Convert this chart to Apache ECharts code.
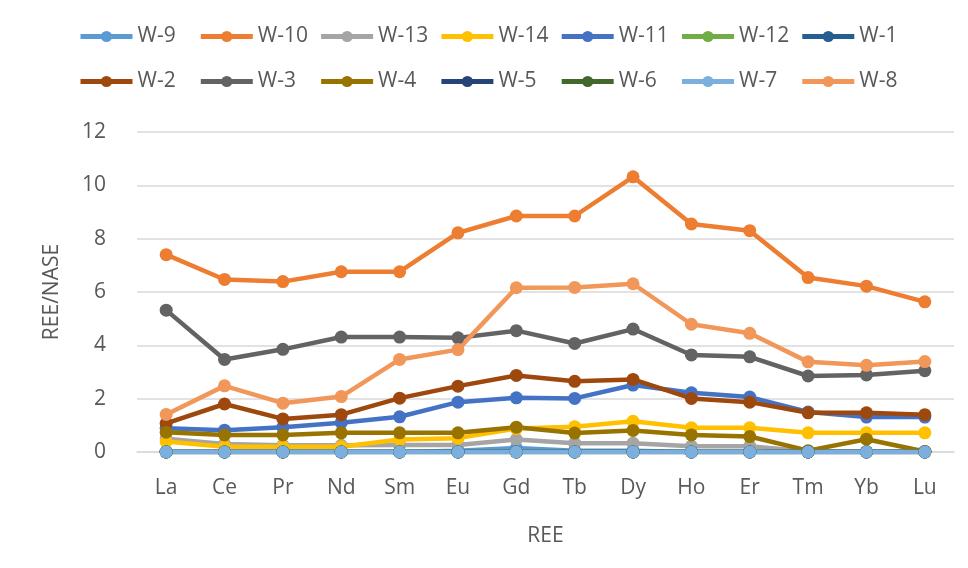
<!DOCTYPE html>
<html>
<head>
<meta charset="utf-8">
<title>REE/NASE</title>
<script src="https://cdn.jsdelivr.net/npm/echarts@6/dist/echarts.min.js"></script>
<style>
  html, body { margin: 0; padding: 0; background: #fff; }
  #chart { width: 968px; height: 568px; }
</style>
</head>
<body>
<div id="chart"></div>
<script>
// 元素（横轴）
var elements = ['La', 'Ce', 'Pr', 'Nd', 'Sm', 'Eu', 'Gd', 'Tb', 'Dy', 'Ho', 'Er', 'Tm', 'Yb', 'Lu'];
var yTicks = [0, 2, 4, 6, 8, 10, 12];

// 各样品的 REE/NASE 值（按图例顺序）
var w9  = [0, 0, 0, 0, 0, 0.05, 0.15, 0.05, 0.05, 0, 0, 0, 0, 0];
var w10 = [7.4, 6.47, 6.39, 6.76, 6.76, 8.22, 8.85, 8.85, 10.32, 8.55, 8.3, 6.54, 6.22, 5.63];
var w13 = [0.5, 0.3, 0.25, 0.25, 0.26, 0.26, 0.47, 0.33, 0.33, 0.22, 0.22, 0.02, 0.02, 0.02];
var w14 = [0.39, 0.2, 0.2, 0.2, 0.47, 0.52, 0.88, 0.95, 1.15, 0.91, 0.91, 0.72, 0.72, 0.72];
var w11 = [0.89, 0.82, 0.93, 1.1, 1.32, 1.87, 2.03, 2.01, 2.51, 2.22, 2.06, 1.5, 1.31, 1.31];
var w12 = [0, 0, 0, 0, 0, 0, 0, 0, 0, 0, 0, 0, 0, 0];
var w1  = [0, 0, 0, 0, 0, 0, 0, 0, 0, 0, 0, 0, 0, 0];
var w2  = [1.07, 1.8, 1.24, 1.4, 2.02, 2.47, 2.87, 2.65, 2.72, 2.01, 1.87, 1.47, 1.47, 1.4];
var w3  = [5.32, 3.47, 3.85, 4.31, 4.31, 4.28, 4.55, 4.07, 4.61, 3.64, 3.57, 2.85, 2.89, 3.05];
var w4  = [0.74, 0.64, 0.64, 0.72, 0.72, 0.72, 0.93, 0.71, 0.81, 0.64, 0.58, 0.05, 0.48, 0.02];
var w5  = [0, 0, 0, 0, 0, 0, 0, 0, 0, 0, 0, 0, 0, 0];
var w6  = [0, 0, 0, 0, 0, 0, 0, 0, 0, 0, 0, 0, 0, 0];
var w7  = [0, 0, 0, 0, 0, 0, 0, 0, 0, 0, 0, 0, 0, 0];
var w8  = [1.41, 2.48, 1.83, 2.08, 3.47, 3.84, 6.16, 6.17, 6.31, 4.79, 4.45, 3.38, 3.25, 3.39];

var names = ['W-9', 'W-10', 'W-13', 'W-14', 'W-11', 'W-12', 'W-1',
             'W-2', 'W-3', 'W-4', 'W-5', 'W-6', 'W-7', 'W-8'];
var values = [w9, w10, w13, w14, w11, w12, w1, w2, w3, w4, w5, w6, w7, w8];
var colors = ['#5B9BD5', '#ED7D31', '#A5A5A5', '#FFC000', '#4472C4', '#70AD47', '#255E91',
              '#9E480E', '#636363', '#997300', '#264478', '#43682B', '#7CAFDD', '#F1975A'];

var font = '"Open Sans", "Noto Sans", sans-serif';
var textColor = '#595959';

var myChart = echarts.init(document.getElementById('chart'));

// 图例按列排（每列上下两个），这样两行能对齐
var legends = [];
for (var k = 0; k < 7; k++) {
  legends.push({
    left: 78 + k * 120.3,
    top: 26,
    padding: 0,
    orient: 'vertical',
    itemWidth: 52,
    itemHeight: 14,
    itemGap: 24,
    lineStyle: { width: 5 },
    textStyle: { color: textColor, fontSize: 21, fontFamily: font },
    data: [names[k], names[k + 7]]
  });
}

var option = {
  animation: false,
  color: colors,
  legend: legends,
  grid: { left: 137, right: 14, top: 132, bottom: 116 },
  xAxis: {
    type: 'category',
    data: elements,
    boundaryGap: true,
    name: 'REE',
    nameLocation: 'middle',
    nameGap: 74,
    nameTextStyle: { color: textColor, fontSize: 21, fontFamily: font },
    axisLine: { lineStyle: { color: '#D9D9D9', width: 1.5 } },
    axisTick: { show: false },
    axisLabel: { color: textColor, fontSize: 21, fontFamily: font, margin: 26 }
  },
  yAxis: {
    type: 'value',
    min: yTicks[0],
    max: yTicks[yTicks.length - 1],
    interval: 2,
    name: 'REE/NASE',
    nameLocation: 'middle',
    nameGap: 74,
    nameTextStyle: { color: textColor, fontSize: 21, fontFamily: font },
    axisLine: { show: false },
    axisTick: { show: false },
    axisLabel: { color: textColor, fontSize: 21, fontFamily: font, margin: 31 },
    splitLine: { lineStyle: { color: '#D9D9D9', width: 1.5 } }
  },
  series: names.map(function (n, i) {
    return {
      name: n,
      type: 'line',
      data: values[i],
      symbol: 'circle',
      symbolSize: 13,
      lineStyle: { width: 4.5, color: colors[i] },
      itemStyle: { color: colors[i] }
    };
  })
};
myChart.setOption(option);
</script>
</body>
</html>
